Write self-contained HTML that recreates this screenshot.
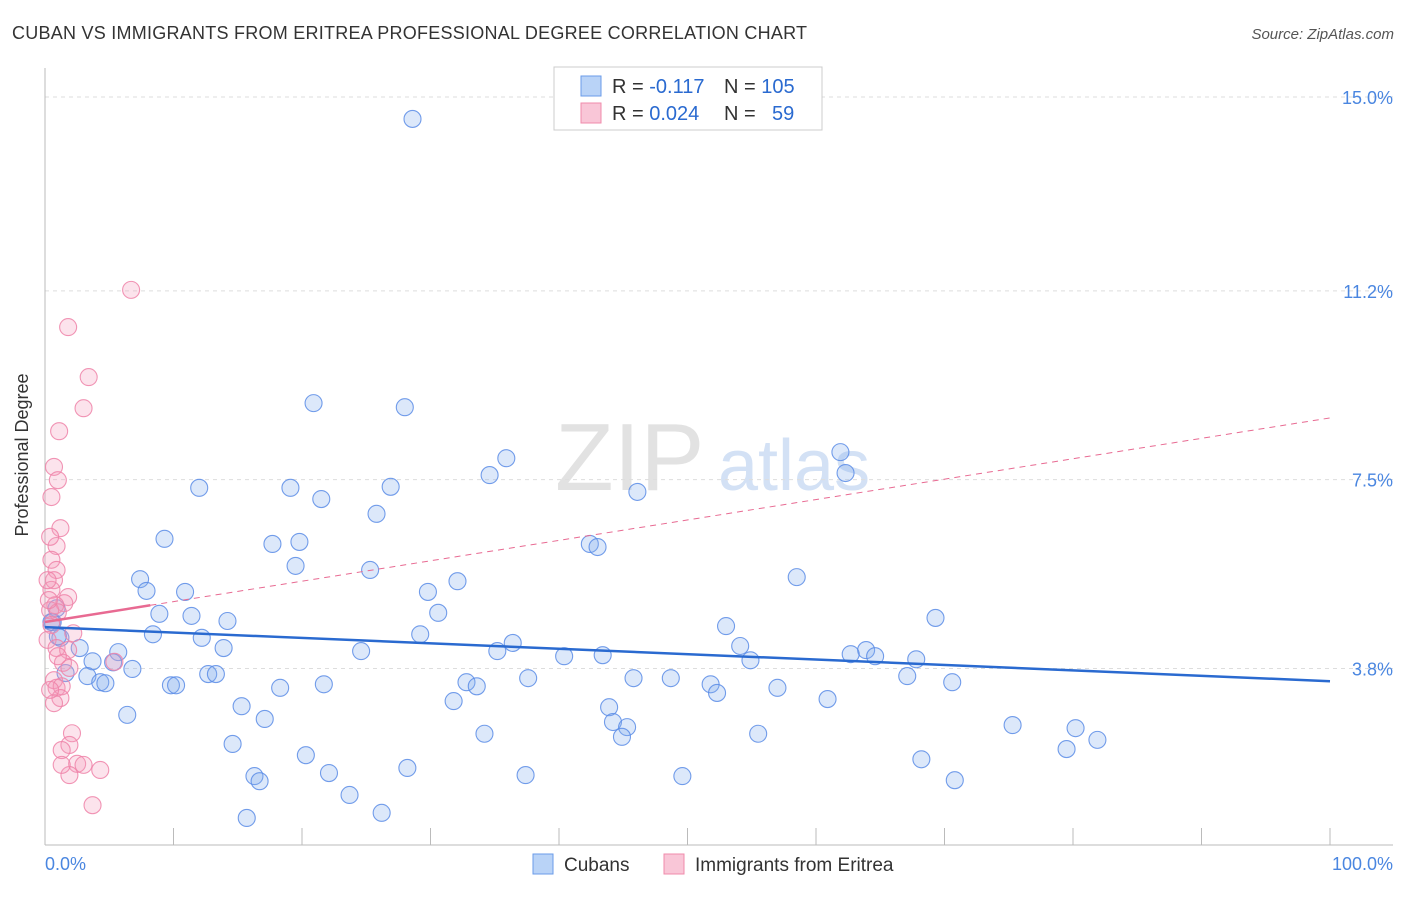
<!DOCTYPE html>
<html><head><meta charset="utf-8"><style>
body{margin:0;background:#fff;font-family:"Liberation Sans",sans-serif;}
svg text{font-family:"Liberation Sans",sans-serif;}
</style></head><body>
<svg id="chart" width="1406" height="892" viewBox="0 0 1406 892">
<text x="12" y="39" font-size="18" fill="#333" textLength="795">CUBAN VS IMMIGRANTS FROM ERITREA PROFESSIONAL DEGREE CORRELATION CHART</text>
<text x="1394" y="39" font-size="15" fill="#555" font-style="italic" text-anchor="end">Source: ZipAtlas.com</text>
<g>
<text x="555" y="490" font-size="96" fill="#e2e2e2" font-family="Liberation Serif,serif">ZIP</text>
<text x="718" y="490" font-size="72" fill="#d3e1f5">atlas</text>
</g>
<g id="grid"></g>
<g id="axes"></g>
<g id="pts"></g>
<g id="trend"></g>
<text x="28" y="455" font-size="18" fill="#333" text-anchor="middle" transform="rotate(-90 28 455)">Professional Degree</text>
<g>
<rect x="554" y="67" width="268" height="63" fill="#fff" stroke="#ccc"/>
<rect x="581" y="76" width="20" height="20" fill="#b9d3f7" stroke="#6a9be8"/>
<rect x="581" y="103" width="20" height="20" fill="#f9c6d7" stroke="#f08bab"/>
<text x="612" y="93" font-size="20" fill="#333">R = <tspan fill="#2a6ad0">-0.117</tspan><tspan x="724">N = </tspan><tspan fill="#2a6ad0">105</tspan></text>
<text x="612" y="120" font-size="20" fill="#333">R = <tspan fill="#2a6ad0">0.024</tspan><tspan x="724">N = </tspan><tspan fill="#2a6ad0" x="772">59</tspan></text>
</g>
<g>
<rect x="533" y="854" width="20" height="20" fill="#b9d3f7" stroke="#6a9be8"/>
<text x="564" y="871" font-size="19" fill="#333">Cubans</text>
<rect x="664" y="854" width="20" height="20" fill="#f9c6d7" stroke="#f08bab"/>
<text x="695" y="871" font-size="19" fill="#333">Immigrants from Eritrea</text>
</g>
</svg>
<script>
const yTicks=[15.0,11.2,7.5,3.8];
const yTickLabels=["15.0%","11.2%","7.5%","3.8%"];
const xTickLabels=["0.0%","100.0%"];
const cubanX=[28.6,20.9,28.0,35.9,34.6,61.9,62.3,12.0,19.1,21.5,26.9,46.1,25.8,9.3,17.7,19.8,42.4,43.0,19.5,25.3,7.4,32.1,58.5,7.9,10.9,29.8,8.9,11.4,30.6,14.2,69.3,0.6,53.0,29.2,8.4,12.2,54.1,36.4,35.2,63.9,2.7,5.7,13.9,24.6,40.4,43.4,62.7,64.6,67.8,54.9,1.2,3.7,5.3,6.8,1.6,3.3,12.7,13.3,4.3,4.7,9.8,10.2,32.8,33.6,37.6,45.8,48.7,51.8,67.1,70.6,18.3,21.7,52.3,57.0,31.8,43.9,15.3,60.9,6.4,17.1,44.2,45.3,44.9,34.2,55.5,75.3,80.2,81.9,79.5,14.6,20.3,68.2,16.3,16.7,22.1,28.2,37.4,49.6,70.8,23.7,26.2,15.7,0.9,0.5,1.0];
const cubanY=[14.57,9.0,8.92,7.92,7.59,8.04,7.63,7.34,7.34,7.12,7.36,7.26,6.83,6.34,6.24,6.28,6.24,6.18,5.81,5.73,5.55,5.51,5.59,5.32,5.30,5.30,4.87,4.83,4.89,4.73,4.79,4.71,4.63,4.47,4.47,4.40,4.24,4.30,4.14,4.16,4.20,4.12,4.20,4.14,4.04,4.06,4.08,4.04,3.98,3.96,4.40,3.94,3.92,3.79,3.71,3.65,3.69,3.69,3.53,3.51,3.47,3.47,3.53,3.45,3.61,3.61,3.61,3.49,3.65,3.53,3.42,3.49,3.32,3.42,3.16,3.04,3.06,3.20,2.89,2.81,2.75,2.65,2.46,2.52,2.52,2.69,2.63,2.40,2.22,2.32,2.10,2.02,1.69,1.59,1.75,1.85,1.71,1.69,1.61,1.32,0.97,0.87,4.98,4.71,4.43];
const eritreaX=[6.7,1.8,3.4,3.0,1.1,0.7,1.0,0.5,1.2,0.9,0.4,0.5,0.9,0.7,0.5,1.8,1.5,0.8,0.4,1.0,0.5,2.2,0.2,0.9,1.8,1.4,1.9,5.4,0.7,0.9,1.3,1.2,0.7,2.1,1.9,1.3,2.5,1.9,3.0,4.3,1.3,3.7,0.4,1.0,0.2,0.3];
const eritreaY=[11.22,10.49,9.51,8.90,8.45,7.75,7.49,7.16,6.55,6.20,6.38,5.93,5.73,5.53,5.34,5.20,5.08,5.04,4.94,4.90,4.65,4.49,4.36,4.20,4.16,3.91,3.81,3.93,3.57,3.42,3.45,3.22,3.12,2.53,2.30,2.20,1.93,1.71,1.91,1.81,1.91,1.12,3.38,4.04,5.53,5.14];
const cubanTrend=[4.61,3.55];
const eritreaTrend=[4.71,8.71];
const eritreaSolidEnd=8.2;
const NS="http://www.w3.org/2000/svg";
const X0=45,X1=1330,YT=97,YB=671;
function sx(v){return X0+(X1-X0)*v/100;}
function sy(v){return YT+(15-v)*(YB-YT)/11.25;}
function mk(tag,attrs,parent){const e=document.createElementNS(NS,tag);for(const k in attrs)e.setAttribute(k,attrs[k]);parent.appendChild(e);return e;}
const grid=document.getElementById('grid'),axes=document.getElementById('axes'),pts=document.getElementById('pts'),trend=document.getElementById('trend');
yTicks.forEach((t,i)=>{
 const l=mk('line',{x1:X0,x2:1393,y1:sy(t),y2:sy(t),stroke:'#ddd','stroke-dasharray':'4,4'},grid);
 
 
 const tx=mk('text',{x:1393,y:sy(t)+7,'font-size':18,fill:'#4a86e0','text-anchor':'end'},axes);
 tx.textContent=yTickLabels[i];
 
 
});
const ya=mk('line',{x1:X0,x2:X0,y1:68,y2:845,stroke:'#bbb'},axes);


const xa=mk('line',{x1:X0,x2:1393,y1:845,y2:845,stroke:'#bbb'},axes);


for(let k=0;k<=10;k++){
 const t=mk('line',{x1:sx(k*10),x2:sx(k*10),y1:828,y2:845,stroke:'#bbb'},axes);
 
 
}
[[0,'start',45],[1,'end',1393]].forEach(([i,a,x])=>{
 const tx=mk('text',{x:x,y:870,'font-size':18,fill:'#4a86e0','text-anchor':a},axes);
 tx.textContent=xTickLabels[i];
 
 
});
cubanX.forEach((x,i)=>{
 const c=mk('circle',{cx:sx(x),cy:sy(cubanY[i]),r:8.5,fill:'rgba(130,172,238,0.28)',stroke:'rgba(90,140,230,0.85)','stroke-width':1.1},pts);
 
 
});
eritreaX.forEach((x,i)=>{
 const c=mk('circle',{cx:sx(x),cy:sy(eritreaY[i]),r:8.5,fill:'rgba(244,155,186,0.28)',stroke:'rgba(238,130,168,0.85)','stroke-width':1.1},pts);
 
 
});
const bl=mk('line',{x1:sx(0),y1:sy(cubanTrend[0]),x2:sx(100),y2:sy(cubanTrend[1]),stroke:'#2a6ad0','stroke-width':2.5},trend);


const ey=v=>eritreaTrend[0]+(eritreaTrend[1]-eritreaTrend[0])*v/100;
const pd=mk('line',{x1:sx(eritreaSolidEnd),y1:sy(ey(eritreaSolidEnd)),x2:sx(100),y2:sy(ey(100)),stroke:'#e86a92','stroke-width':1,'stroke-dasharray':'6,5'},trend);


const ps=mk('line',{x1:sx(0),y1:sy(ey(0)),x2:sx(eritreaSolidEnd),y2:sy(ey(eritreaSolidEnd)),stroke:'#e86a92','stroke-width':2.5},trend);


</script>
</body></html>
